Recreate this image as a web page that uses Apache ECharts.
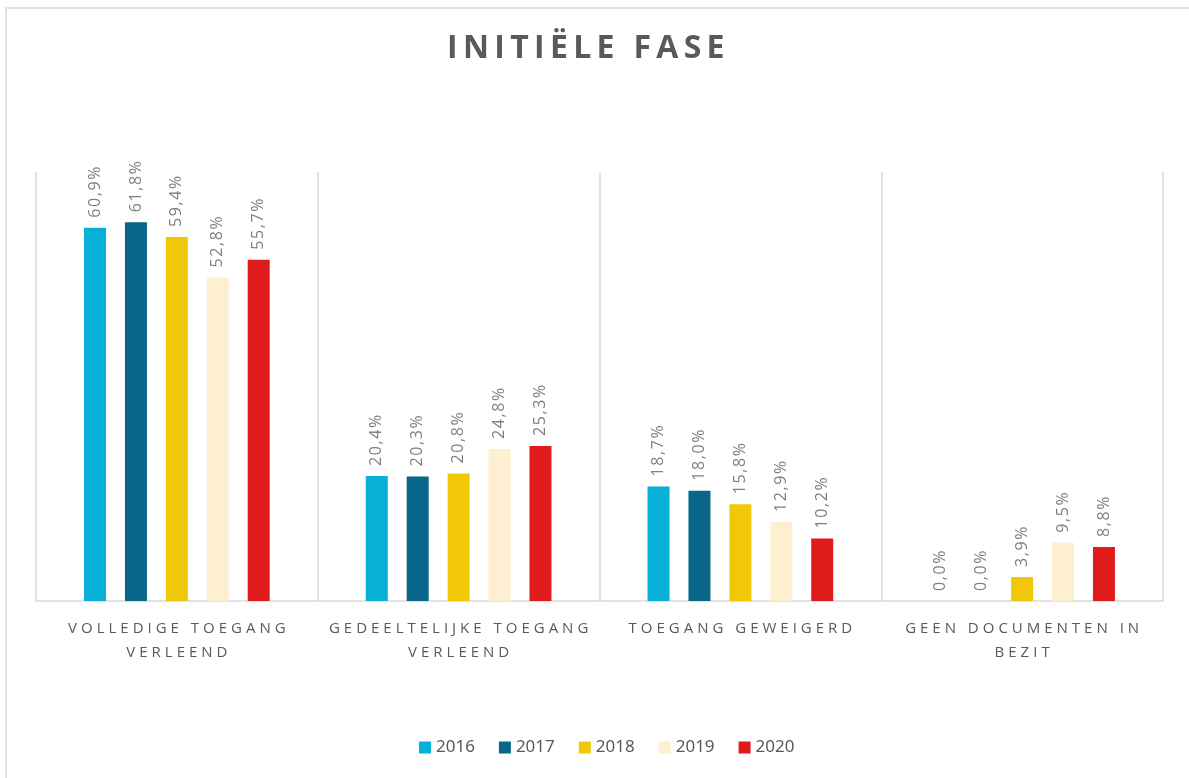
<!DOCTYPE html>
<html>
<head>
<meta charset="utf-8">
<script src="https://cdn.jsdelivr.net/npm/echarts@6/dist/echarts.min.js"></script>
<style>
  html, body { margin: 0; padding: 0; background: #fff; }
  #chart { width: 1189px; height: 778px; }
</style>
</head>
<body>
<div id="chart"></div>
<script>
// categorieën (x-as)
var categories = ['VOLLEDIGE TOEGANG\nVERLEEND', 'GEDEELTELIJKE TOEGANG\nVERLEEND', 'TOEGANG GEWEIGERD', 'GEEN DOCUMENTEN IN\nBEZIT'];
var years = ['2016', '2017', '2018', '2019', '2020'];
var values2016 = [60.9, 20.4, 18.7, 0.0];
var values2017 = [61.8, 20.3, 18.0, 0.0];
var values2018 = [59.4, 20.8, 15.8, 3.9];
var values2019 = [52.8, 24.8, 12.9, 9.5];
var values2020 = [55.7, 25.3, 10.2, 8.8];
var colors = ['#08afd7', '#0a6688', '#f0c808', '#fdefd0', '#df1b1b'];

// letters wat uit elkaar zetten
function spaced(s, sep) {
    return s.split('\n').map(function (line) {
        return line.split('').join(sep);
    }).join('\n');
}

var allValues = [values2016, values2017, values2018, values2019, values2020];
var series = [];
for (var i = 0; i < years.length; i++) {
    series.push({
        name: years[i],
        type: 'bar',
        barWidth: 22,
        barGap: '86%',
        data: allValues[i],
        itemStyle: { color: colors[i] },
        label: {
            show: true,
            position: 'top',
            rotate: 90,
            align: 'left',
            verticalAlign: 'middle',
            distance: 10,
            color: '#7f7f7f',
            fontSize: 16,
            fontFamily: 'Open Sans',
            formatter: function (p) {
                return spaced(p.value.toFixed(1).replace('.', ',') + '%', '\u200a');
            }
        }
    });
}

var myChart = echarts.init(document.getElementById('chart'));
var option = {
    animation: false,
    backgroundColor: '#fff',
    title: {
        text: spaced('INITIËLE FASE', '\u2009'),
        left: 442,
        top: 28,
        textStyle: {
            fontFamily: 'Open Sans',
            fontSize: 32,
            fontWeight: 'bold',
            color: '#595959'
        }
    },
    legend: {
        data: years,
        bottom: 17,
        left: 414,
        itemWidth: 12,
        itemHeight: 12,
        itemGap: 24,
        icon: 'rect',
        textStyle: {
            fontFamily: 'Noto Sans',
            fontSize: 17,
            color: '#595959'
        }
    },
    grid: {
        left: 36,
        right: 26,
        top: 172,
        bottom: 177,
        containLabel: false
    },
    xAxis: {
        type: 'category',
        data: categories,
        axisTick: { show: false },
        axisLine: { lineStyle: { color: '#d9d9d9', width: 1.5 } },
        splitLine: { show: true, interval: 0, lineStyle: { color: '#d9d9d9', width: 1.5 } },
        axisLabel: {
            interval: 0,
            margin: 16,
            lineHeight: 24,
            fontFamily: 'Open Sans',
            fontSize: 15,
            color: '#595959',
            formatter: function (v) { return spaced(v, '\u2009\u200a'); }
        }
    },
    yAxis: {
        type: 'value',
        min: 0,
        max: 70,
        show: false,
        splitLine: { show: false }
    },
    graphic: [{
        type: 'rect',
        shape: { x: 6, y: 8, width: 1300, height: 900 },
        style: { fill: null, stroke: '#d9d9d9', lineWidth: 1.5 },
        silent: true
    }],
    series: series
};
myChart.setOption(option);
</script>
</body>
</html>
